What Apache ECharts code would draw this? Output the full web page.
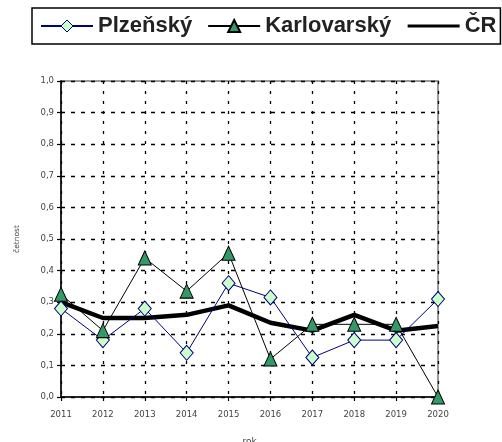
<!DOCTYPE html>
<html>
<head>
<meta charset="utf-8">
<script src="https://cdn.jsdelivr.net/npm/echarts@6/dist/echarts.min.js"></script>
<style>html,body{margin:0;padding:0;background:#fff}#c{width:502px;height:442px}</style>
</head>
<body>
<div id="c"></div>
<script>
const years = ['2011','2012','2013','2014','2015','2016','2017','2018','2019','2020'];
const plzensky = [0.28, 0.18, 0.28, 0.14, 0.36, 0.315, 0.125, 0.18, 0.18, 0.31];
const karlovarsky = [0.325, 0.21, 0.44, 0.335, 0.455, 0.12, 0.23, 0.23, 0.23, 0.0];
const cr = [0.30, 0.25, 0.25, 0.26, 0.29, 0.235, 0.21, 0.26, 0.21, 0.225];
const seriesNames = ['Plzeňský', 'Karlovarský', 'ČR'];
const yAxisName = 'četnost';
const xAxisName = 'rok';

const chart = echarts.init(document.getElementById('c'), null, {renderer: 'canvas'});
chart.setOption({
  animation: false,
  backgroundColor: '#fff',
  grid: {left: 61, right: 64, top: 81, bottom: 45, show: true, borderColor: '#999', borderWidth: 2,
    containLabel: false, outerBoundsMode: 'none'},
  legend: {
    data: [
      {name: seriesNames[0], itemStyle: {color: '#ccffcc', borderColor: '#000080', borderWidth: 1}},
      {name: seriesNames[1]},
      {name: seriesNames[2], itemStyle: {color: 'rgba(0,0,0,0)', borderWidth: 0, opacity: 0}, lineStyle: {width: 3, color: '#000'}}
    ],
    left: 32, top: 8, width: 468,
    padding: [7, 4, 7, 8],
    itemGap: 15,
    itemWidth: 52,
    itemHeight: 15,
    borderColor: '#000', borderWidth: 1.5,
    textStyle: {fontFamily: 'Liberation Sans', fontWeight: 'bold', fontSize: 22, color: '#222'}
  },
  xAxis: {
    type: 'category', data: years, boundaryGap: false,
    name: xAxisName, nameLocation: 'middle', nameGap: 40,
    nameTextStyle: {fontFamily: 'DejaVu Sans', fontSize: 9, color: '#444'},
    axisLine: {lineStyle: {color: '#000', width: 1.5}},
    axisTick: {show: true, length: 4, lineStyle: {color: '#000', width: 1.2}},
    axisLabel: {fontFamily: 'DejaVu Sans', fontSize: 8.5, color: '#444', margin: 13},
    splitLine: {show: true, lineStyle: {color: '#000', type: [3, 7], width: 1.3}}
  },
  yAxis: {
    type: 'value', min: 0, max: 1, interval: 0.1,
    name: yAxisName, nameLocation: 'middle', nameGap: 40, nameRotate: 90,
    nameTextStyle: {fontFamily: 'DejaVu Sans', fontSize: 7.5, color: '#444'},
    axisLine: {show: true, lineStyle: {color: '#000', width: 1.5}},
    axisTick: {show: true, length: 4, lineStyle: {color: '#000', width: 1.2}},
    axisLabel: {fontFamily: 'DejaVu Sans', fontSize: 8.5, color: '#444', margin: 7,
      formatter: v => v.toFixed(1).replace('.', ',')},
    splitLine: {show: true, lineStyle: {color: '#000', type: [4, 6], width: 1.3}}
  },
  series: [
    {
      name: seriesNames[2], type: 'line', data: cr, z: 2,
      symbol: 'none', lineStyle: {color: '#000', width: 4.5},
      itemStyle: {color: '#000'}
    },
    {
      name: seriesNames[0], type: 'line', data: plzensky, z: 3,
      symbol: 'diamond', symbolSize: [13, 15],
      lineStyle: {color: '#000080', width: 1},
      itemStyle: {color: '#ccffcc', borderColor: '#000080', borderWidth: 1}
    },
    {
      name: seriesNames[1], type: 'line', data: karlovarsky, z: 4,
      symbol: 'triangle', symbolSize: [13, 14],
      lineStyle: {color: '#000', width: 1},
      itemStyle: {color: '#339966', borderColor: '#000', borderWidth: 1}
    }
  ]
});
</script>
</body>
</html>
